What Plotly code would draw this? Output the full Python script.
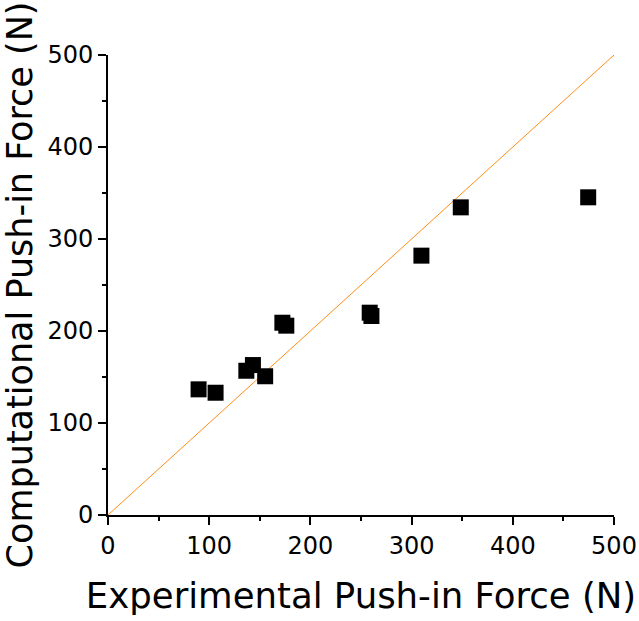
import plotly.graph_objects as go

experimental = [89.5, 106.3, 136.7, 143.2, 155.3, 172.3, 176.2, 258.6, 260.3, 309.7, 348.6, 474.5]
computational = [136.6, 132.9, 156.8, 163.0, 150.8, 209.0, 205.8, 219.9, 216.3, 281.9, 334.4, 345.3]
ref_line = [0, 500]
tick_vals = [0, 100, 200, 300, 400, 500]

FONT = "DejaVu Sans, Liberation Sans, Arial"

fig = go.Figure()
fig.add_trace(go.Scatter(x=ref_line, y=ref_line, mode="lines",
                         line=dict(color="#FF8C1A", width=1), showlegend=False))
fig.add_trace(go.Scatter(x=experimental, y=computational, mode="markers",
                         marker=dict(symbol="square", size=16, color="black"),
                         showlegend=False))

axis_common = dict(range=[0, 500], tickvals=tick_vals, showgrid=False, zeroline=False,
                   showline=True, linecolor="black", linewidth=2, automargin=False,
                   ticks="outside", ticklen=8, tickwidth=2, tickcolor="black",
                   tickfont=dict(family=FONT, size=24, color="black"),
                   minor=dict(dtick=50, ticks="outside", ticklen=4, tickwidth=2, tickcolor="black"))

fig.update_xaxes(**axis_common,
                 title=dict(text="Experimental Push-in Force (N)", standoff=24,
                            font=dict(family=FONT, size=35.5, color="black")))
fig.update_yaxes(**axis_common,
                 title=dict(text="Computational Push-in Force (N)", standoff=10,
                            font=dict(family=FONT, size=35, color="black")))

fig.update_layout(width=639, height=621, plot_bgcolor="white", paper_bgcolor="white",
                  margin=dict(l=108, r=25, t=55, b=106))
fig.write_html("out.html", config={"displayModeBar": False},
               post_script="document.body.style.margin='0';document.body.style.overflow='hidden';")
